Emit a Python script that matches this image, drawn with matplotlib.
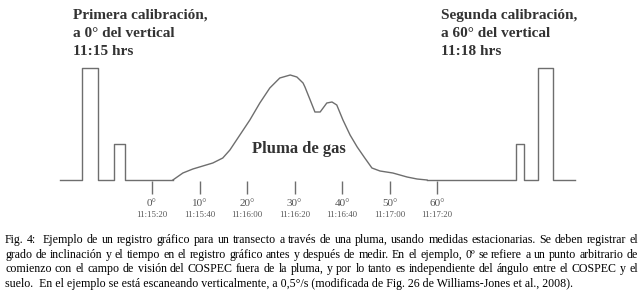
#
# Registro grafico COSPEC - transecto a traves de una pluma
# Recreacion de la Fig. 4
#

import numpy as np
import matplotlib.pyplot as plt

# -------------------------------------------------------------------- #
# Data
# -------------------------------------------------------------------- #

# scan angle [deg] and recorder time at each tick
angles = [0, 10, 20, 30, 40, 50, 60]
times = ["11:15:20", "11:15:40", "11:16:00", "11:16:20", "11:16:40", "11:17:00", "11:17:20"]

# first calibration (left), x in deg, y in signal units
cal1_x = [-19.4, -14.7, -14.7, -11.4, -11.4, -8.0, -8.0, -5.7, -5.7, 4.4]
cal1_y = [0, 0, 112, 112, 0, 0, 36, 36, 0, 0]

# plume trace
plume_x = [4.4, 6.5, 8.6, 10.7, 12.8, 14.9, 16.4, 18.5, 20.6, 22.7, 24.8,
           26.9, 29.1, 30.5, 31.8, 32.2, 33.3, 34.3, 35.4, 36.8, 37.9,
           38.9, 40.2, 41.7, 43.2, 44.8, 46.3, 48.0, 50.7, 53.7, 55.8, 57.9]
plume_y = [0, 7, 11, 14, 17, 22, 30, 45, 60, 77, 92,
           102, 105, 103, 97, 93, 80, 68, 68, 77, 78,
           75, 60, 45, 33, 22, 12, 9, 7, 3, 1, 0]

# second calibration (right)
cal2_x = [57.9, 76.6, 76.6, 78.3, 78.3, 81.3, 81.3, 84.4, 84.4, 89.1]
cal2_y = [0, 0, 36, 36, 0, 0, 112, 112, 0, 0]

title_left = ["Primera calibración,", "a 0° del vertical", "11:15 hrs"]
title_right = ["Segunda calibración,", "a 60° del vertical", "11:18 hrs"]

caption = [
    "Fig. 4:  Ejemplo de un registro gráfico para un transecto a través de una pluma, usando medidas estacionarias. Se deben registrar el",
    "grado de inclinación y el tiempo en el registro gráfico antes y después de medir. En el ejemplo, 0º se refiere a un punto arbitrario de",
    "comienzo con el campo de visión del COSPEC fuera de la pluma, y por lo tanto es independiente del ángulo entre el COSPEC y el",
    "suelo.  En el ejemplo se está escaneando verticalmente, a 0,5°/s (modificada de Fig. 26 de Williams-Jones et al., 2008).",
]

# -------------------------------------------------------------------- #
# Plot
# -------------------------------------------------------------------- #

W, H = 644, 297
fig = plt.figure(figsize=(W / 100, H / 100), dpi=100)
plt.rcParams['font.family'] = ['Liberation Serif', 'DejaVu Serif']

# axes covers the chart part of the figure (top 225 px)
ax = fig.add_axes([0, 1 - 225 / H, 1, 225 / H])
ax.set_xlim(-152 / 4.75, (W - 152) / 4.75)
ax.set_ylim(-45, 180)
ax.axis('off')

line_col = '#6e6e6e'
ax.plot(cal1_x, cal1_y, color=line_col, lw=1.0)
ax.plot(plume_x, plume_y, color=line_col, lw=1.0)
ax.plot(cal2_x, cal2_y, color=line_col, lw=1.0)

# ticks below the baseline
ax.vlines(angles, -1, -14, color=line_col, lw=1.0)
for a, t in zip(angles, times):
    ax.text(a, -23, f"{a}°", ha='center', va='center', fontsize=8, color='#555555')
    ax.text(a, -35, t, ha='center', va='center', fontsize=6.3, color='#555555')

# labels, one line at a time (baselines ~18 px apart)
for k in range(3):
    yk = 1 - (19 + 18 * k) / H
    fig.text(73 / W, yk, title_left[k], ha='left', va='baseline', fontsize=11,
             fontweight='bold', color='#333333')
    fig.text(441 / W, yk, title_right[k], ha='left', va='baseline', fontsize=11,
             fontweight='bold', color='#333333')
ax.text(30.9, 31, "Pluma de gas", ha='center', va='center', fontsize=12,
        fontweight='bold', color='#333333')

# caption, justified like the original (last line left aligned)
renderer = fig.canvas.get_renderer()
x0, x1 = 5, 638
for i, line in enumerate(caption):
    y = 1 - (240 + 14.7 * i) / H
    if i == len(caption) - 1:
        fig.text(x0 / W, y, line, ha='left', va='center', fontsize=8.6)
        continue
    words = line.split(' ')
    arts = [fig.text(0, y, w, ha='left', va='center', fontsize=8.6) for w in words]
    widths = [a.get_window_extent(renderer).width for a in arts]
    gap = (x1 - x0 - sum(widths)) / (len(words) - 1)
    xpos = x0
    for a, w in zip(arts, widths):
        a.set_x(xpos / W)
        xpos += w + gap

fig.savefig('out.png', dpi=100)
